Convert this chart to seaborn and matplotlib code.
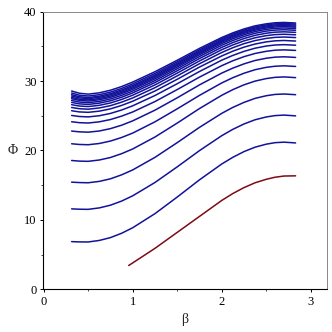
import numpy as np
import pandas as pd
import seaborn as sns
import matplotlib.pyplot as plt

# ------------------------------- data ------------------------------- #
beta_blue = [0.314, 0.4, 0.5, 0.625, 0.75, 0.875, 1.0, 1.25, 1.5, 1.75,
             2.0, 2.125, 2.25, 2.375, 2.5, 2.6, 2.7, 2.83]

phi_blue = [
    [6.87, 6.83, 6.82, 7.04, 7.45, 8.07, 8.87, 10.90, 13.29, 15.77, 18.05, 19.02, 19.84, 20.48, 20.91, 21.13, 21.20, 21.09],
    [11.59, 11.54, 11.52, 11.73, 12.12, 12.71, 13.47, 15.39, 17.64, 19.98, 22.13, 23.05, 23.82, 24.43, 24.83, 25.03, 25.10, 24.99],
    [15.44, 15.38, 15.35, 15.55, 15.92, 16.49, 17.20, 19.01, 21.13, 23.33, 25.35, 26.21, 26.93, 27.51, 27.89, 28.08, 28.14, 28.04],
    [18.56, 18.47, 18.44, 18.63, 18.99, 19.54, 20.22, 21.94, 23.95, 26.04, 27.95, 28.77, 29.46, 30.00, 30.36, 30.54, 30.60, 30.50],
    [20.97, 20.87, 20.83, 21.01, 21.36, 21.87, 22.51, 24.13, 26.00, 27.94, 29.73, 30.49, 31.13, 31.64, 31.98, 32.14, 32.20, 32.11],
    [22.80, 22.69, 22.64, 22.81, 23.15, 23.64, 24.27, 25.81, 27.59, 29.45, 31.15, 31.87, 32.48, 32.97, 33.29, 33.45, 33.50, 33.41],
    [24.14, 24.01, 23.96, 24.13, 24.46, 24.95, 25.55, 27.05, 28.78, 30.57, 32.22, 32.93, 33.52, 33.98, 34.29, 34.45, 34.50, 34.42],
    [25.05, 24.90, 24.84, 25.01, 25.34, 25.83, 26.44, 27.92, 29.62, 31.38, 33.01, 33.70, 34.28, 34.74, 35.05, 35.20, 35.25, 35.17],
    [25.73, 25.56, 25.50, 25.67, 26.00, 26.49, 27.10, 28.57, 30.26, 32.02, 33.62, 34.31, 34.89, 35.34, 35.65, 35.80, 35.85, 35.77],
    [26.20, 26.02, 25.95, 26.13, 26.46, 26.96, 27.57, 29.05, 30.75, 32.50, 34.12, 34.81, 35.39, 35.84, 36.15, 36.30, 36.35, 36.27],
    [26.60, 26.41, 26.33, 26.51, 26.85, 27.35, 27.97, 29.45, 31.15, 32.90, 34.52, 35.21, 35.79, 36.24, 36.55, 36.70, 36.75, 36.67],
    [26.93, 26.72, 26.64, 26.82, 27.16, 27.67, 28.30, 29.79, 31.49, 33.25, 34.86, 35.55, 36.13, 36.59, 36.90, 37.05, 37.10, 37.02],
    [27.21, 26.98, 26.89, 27.07, 27.42, 27.94, 28.57, 30.07, 31.78, 33.54, 35.16, 35.85, 36.43, 36.89, 37.20, 37.35, 37.40, 37.32],
    [27.46, 27.22, 27.12, 27.31, 27.66, 28.18, 28.82, 30.32, 32.03, 33.79, 35.41, 36.10, 36.68, 37.14, 37.45, 37.60, 37.65, 37.57],
    [27.65, 27.39, 27.29, 27.48, 27.84, 28.36, 29.01, 30.52, 32.22, 33.98, 35.61, 36.30, 36.88, 37.34, 37.65, 37.80, 37.85, 37.77],
    [27.85, 27.58, 27.47, 27.66, 28.02, 28.55, 29.20, 30.70, 32.40, 34.15, 35.77, 36.46, 37.04, 37.49, 37.80, 37.95, 38.00, 37.92],
    [28.04, 27.75, 27.63, 27.82, 28.19, 28.72, 29.37, 30.88, 32.57, 34.32, 35.93, 36.61, 37.19, 37.65, 37.95, 38.10, 38.15, 38.07],
    [28.28, 27.97, 27.85, 28.04, 28.41, 28.94, 29.60, 31.10, 32.77, 34.50, 36.10, 36.78, 37.35, 37.80, 38.10, 38.25, 38.30, 38.22],
    [28.57, 28.25, 28.12, 28.31, 28.68, 29.21, 29.86, 31.35, 33.00, 34.71, 36.28, 36.95, 37.51, 37.96, 38.25, 38.40, 38.45, 38.37],
]

beta_red = [0.955, 1.0, 1.25, 1.5, 1.75, 2.0, 2.125, 2.25, 2.375, 2.5, 2.6, 2.7, 2.83]
phi_red = [3.43, 3.8, 5.9, 8.2, 10.5, 12.8, 13.8, 14.65, 15.35, 15.85, 16.15, 16.32, 16.35]

blue_color = "#12129a"
red_color = "#7d0a14"

# ------------------------------- table ------------------------------- #
rows = []
for i, ys in enumerate(phi_blue):
    for b, p in zip(beta_blue, ys):
        rows.append({"curve": f"b{i}", "beta": b, "phi": p})
for b, p in zip(beta_red, phi_red):
    rows.append({"curve": "red", "beta": b, "phi": p})
df = pd.DataFrame(rows)

palette = {f"b{i}": blue_color for i in range(len(phi_blue))}
palette["red"] = red_color

# ------------------------------- draw ------------------------------- #
sns.set_style("ticks")
plt.rcParams['font.family'] = ['Liberation Serif', 'DejaVu Serif']

fig = plt.figure(figsize=(3.32, 3.32), dpi=100)
ax = fig.add_axes([0.1286, 0.1286, 0.8564, 0.8362])

sns.lineplot(data=df, x="beta", y="phi", hue="curve", palette=palette,
             units="curve", estimator=None, sort=False, legend=False,
             linewidth=1.1, solid_joinstyle="round", ax=ax)

ax.set_xlim(-0.011, 3.183)
ax.set_ylim(0, 40)
ax.set_xticks([0, 1, 2, 3])
ax.set_yticks([0, 10, 20, 30, 40])
ax.set_xticks([0.5, 1.5, 2.5], minor=True)
ax.set_yticks([5, 15, 25, 35], minor=True)
ax.tick_params(which="major", direction="out", length=2.5, width=0.7,
               labelsize=9, pad=2, colors="black")
ax.tick_params(which="minor", direction="out", length=1.5, width=0.6)

for s in ["left", "bottom"]:
    ax.spines[s].set_color("black")
    ax.spines[s].set_linewidth(0.8)
for s in ["top", "right"]:
    ax.spines[s].set_visible(True)
    ax.spines[s].set_color("#888888")
    ax.spines[s].set_linewidth(0.7)

ax.set_xlabel("β", fontsize=10, va="center")
ax.set_ylabel("Φ", fontsize=10, rotation=0, ha="center", va="center")
ax.xaxis.set_label_coords(0.5, -0.107)
ax.yaxis.set_label_coords(-0.104, 0.5)

plt.savefig("out.png", dpi=100)
